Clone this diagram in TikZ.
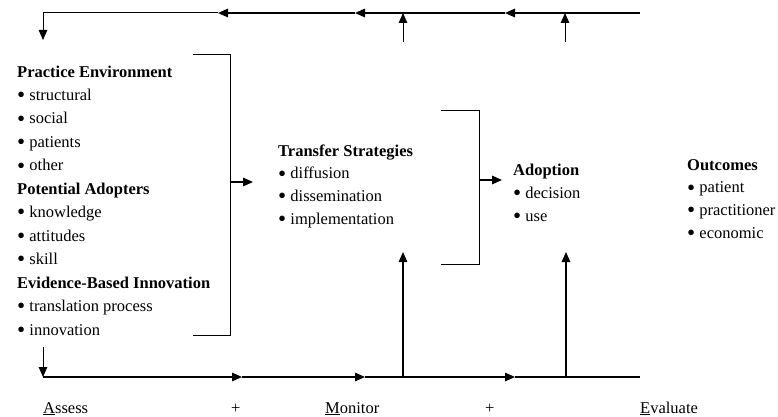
\documentclass[tikz,border=0pt]{standalone}
\usepackage{fontspec}
\usepackage{graphicx}
\setmainfont{Liberation Serif}
\usetikzlibrary{arrows.meta}
% list bullet, a little heavier than the plain glyph
\newcommand{\bul}{\raisebox{-2.2pt}{\scalebox{1.4}{•}}}
\begin{document}
\begin{tikzpicture}[x=1pt,y=-1pt,
  thin line/.style={line width=1pt},
  thick line/.style={line width=1.5pt},
  tip/.style={-{Triangle[length=10pt,width=8.5pt]}},
  block/.style={anchor=base west,inner sep=0pt,align=left,
    font=\fontsize{16.5}{22.6}\selectfont},
  label/.style={anchor=base west,inner sep=0pt,font=\fontsize{16.5}{20}\selectfont}]
\useasboundingbox (0,0) rectangle (778,417);

% text blocks (placed by the baseline of their last line)
\node[block,font=\fontsize{16.5}{23.45}\selectfont] (env) at (17,335) {\textbf{Practice Environment}\\
  \bul{} structural\\ \bul{} social\\ \bul{} patients\\ \bul{} other\\
  \textbf{Potential Adopters}\\
  \bul{} knowledge\\ \bul{} attitudes\\ \bul{} skill\\
  \textbf{Evidence-Based Innovation}\\
  \bul{} translation process\\ \bul{} innovation};
\node[block] (transfer) at (278,224) {\textbf{Transfer Strategies}\\
  \bul{} diffusion\\ \bul{} dissemination\\ \bul{} implementation};
\node[block,font=\fontsize{16.5}{23}\selectfont] (adopt) at (513,221) {\textbf{Adoption}\\ \bul{} decision\\ \bul{} use};
\node[block] (outc) at (687,238) {\textbf{Outcomes}\\ \bul{} patient\\ \bul{} practitioner\\ \bul{} economic};

% bottom labels
\node[label] (assess) at (43,413) {\underline{A}ssess};
\node[label] (plus1) at (231,413) {+};
\node[label] (monitor) at (325,413) {\underline{M}onitor};
\node[label] (plus2) at (485,413) {+};
\node[label] (evaluate) at (640,413) {\underline{E}valuate};

% feedback loop along the top
\coordinate (t0) at (640,13);
\coordinate (t1) at (505,13);
\coordinate (t2) at (355,13);
\coordinate (t3) at (218,13);
\coordinate (tc) at (43,13);
\coordinate (td) at (43,40);
\coordinate (u1b) at (403,42);
\coordinate (u1t) at (403,13);
\coordinate (u2b) at (565,42);
\coordinate (u2t) at (565,13);
\draw[thick line,tip] (t0) -- (t1);
\draw[thick line,tip] (t1) -- (t2);
\draw[thick line,tip] (t2) -- (t3);
\draw[thin line,tip] (t3) -- (tc) -- (td);
\draw[thin line,tip] (u1b) -- (u1t);
\draw[thin line,tip] (u2b) -- (u2t);

% brackets and forward arrows
\coordinate (l1) at (193,55);
\coordinate (l2) at (230,55);
\coordinate (l3) at (230,335);
\coordinate (l4) at (193,335);
\coordinate (la) at (230,182);
\coordinate (lb) at (253,182);
\draw[thin line] (l1) -- (l2) -- (l3) -- (l4);
\draw[thick line,tip] (la) -- (lb);
\coordinate (r1) at (441,111);
\coordinate (r2) at (479,111);
\coordinate (r3) at (479,264);
\coordinate (r4) at (441,264);
\coordinate (ra) at (479,180);
\coordinate (rb) at (502,180);
\draw[thin line] (r1) -- (r2) -- (r3) -- (r4);
\draw[thick line,tip] (ra) -- (rb);

% timeline along the bottom
\coordinate (ds) at (43,347);
\coordinate (b0) at (43,377);
\coordinate (b1) at (242,377);
\coordinate (b2) at (365,377);
\coordinate (b3) at (515,377);
\coordinate (b4) at (640,377);
\coordinate (v1b) at (403,377);
\coordinate (v1t) at (403,252);
\coordinate (v2b) at (566,377);
\coordinate (v2t) at (566,252);
\draw[thin line,tip] (ds) -- (b0);
\draw[thick line,tip] (b0) -- (b1);
\draw[thick line,tip] (b1) -- (b2);
\draw[thick line,tip] (b2) -- (b3);
\draw[thick line] (b3) -- (b4);
\draw[thick line,tip] (v1b) -- (v1t);
\draw[thick line,tip] (v2b) -- (v2t);
\end{tikzpicture}
\end{document}
